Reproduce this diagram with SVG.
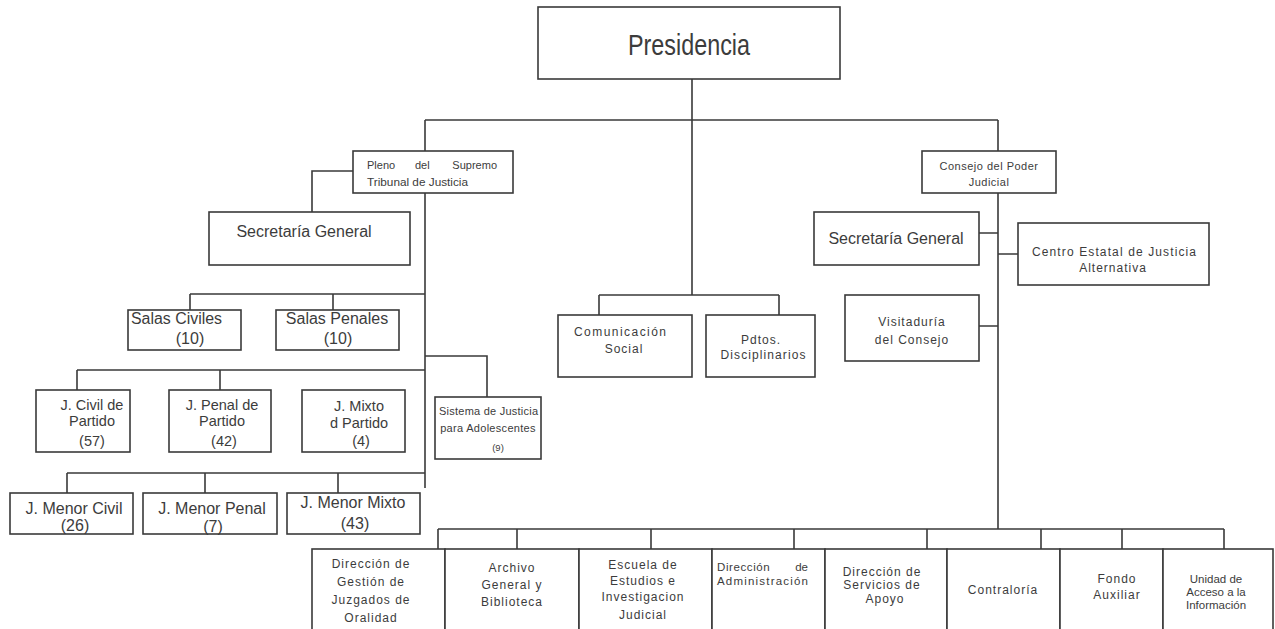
<svg xmlns="http://www.w3.org/2000/svg" width="1275" height="629" viewBox="0 0 1275 629">
<style>
.box{fill:#fff;stroke:#3a3a3a;stroke-width:1.6}
.ln{fill:none;stroke:#3a3a3a;stroke-width:1.6}
text{font-family:"Liberation Sans",Arial,sans-serif;fill:#3c3c3c}
.c{text-anchor:middle}
.s9{font-size:9.5px}
.s11{font-size:11px}
.s12{font-size:12px}
.b{font-size:12px;letter-spacing:1px;text-anchor:middle}
.s14{font-size:14.5px}
.s16{font-size:16px}
</style>
<rect width="1275" height="629" fill="#fff"/>
<g id="connectors">
<path class="ln" d="M692,79V295M425,120H998M425,120V151M998,120V151"/>
<path class="ln" d="M353,171H312V212M425,193V488"/>
<path class="ln" d="M190,294H425M190,294V310M333,294V310"/>
<path class="ln" d="M425,356H487V397"/>
<path class="ln" d="M77,370H425M77,370V390M220,370V390"/>
<path class="ln" d="M67,473H425M67,473V493M205,473V493M338,473V493"/>
<path class="ln" d="M599,295H779M599,295V315M779,295V315"/>
<path class="ln" d="M998,193V529M979,233H998M998,254H1018M979,326H998"/>
<path class="ln" d="M438,529H1224M438,529V549M517,529V549M651,529V549M794,529V549M927,529V549M1041,529V549M1122,529V549M1224,529V549"/>
</g>
<g id="presidencia"><rect class="box" x="538" y="7" width="302" height="72"/><text class="c" x="689" y="55" font-size="30" textLength="122" lengthAdjust="spacingAndGlyphs">Presidencia</text></g>
<g id="pleno"><rect class="box" x="353" y="151" width="160" height="42"/><text class="s11" x="367" y="169">Pleno</text><text class="s11" x="415" y="169">del</text><text class="s11" x="497" y="169" text-anchor="end">Supremo</text><text class="s11" x="367" y="186" textLength="101" lengthAdjust="spacingAndGlyphs">Tribunal de Justicia</text></g>
<g id="secretaria-pleno"><rect class="box" x="209" y="212" width="201" height="53"/><text class="c s16" x="304" y="237">Secretaría General</text></g>
<g id="salas-civiles"><rect class="box" x="128" y="310" width="113" height="40"/><text class="s16" x="131" y="324" textLength="91" lengthAdjust="spacingAndGlyphs">Salas Civiles</text><text class="c s16" x="190" y="344">(10)</text></g>
<g id="salas-penales"><rect class="box" x="276" y="310" width="123" height="40"/><text class="c s16" x="337" y="324">Salas Penales</text><text class="c s16" x="338" y="344">(10)</text></g>
<g id="j-civil-partido"><rect class="box" x="36" y="390" width="94" height="62"/><text class="c s14" x="92" y="410">J. Civil de</text><text class="c s14" x="92" y="426">Partido</text><text class="c s14" x="92" y="446">(57)</text></g>
<g id="j-penal-partido"><rect class="box" x="169" y="390" width="102" height="62"/><text class="c s14" x="222" y="410">J. Penal de</text><text class="c s14" x="222" y="426">Partido</text><text class="c s14" x="224" y="446">(42)</text></g>
<g id="j-mixto-partido"><rect class="box" x="302" y="390" width="103" height="62"/><text class="c s14" x="359" y="411">J. Mixto</text><text class="c s14" x="359" y="428">d Partido</text><text class="c s14" x="361" y="446">(4)</text></g>
<g id="sistema-adolescentes"><rect class="box" x="435" y="397" width="106" height="62"/><text class="s11" x="439" y="415" textLength="99" lengthAdjust="spacing">Sistema de Justicia</text><text class="c s11" x="488" y="432" letter-spacing="0.3">para Adolescentes</text><text class="c s9" x="498" y="451">(9)</text></g>
<g id="j-menor-civil"><rect class="box" x="10" y="493" width="123" height="41"/><text class="c s16" x="74" y="514">J. Menor Civil</text><text class="c s16" x="75" y="531">(26)</text></g>
<g id="j-menor-penal"><rect class="box" x="143" y="493" width="134" height="41"/><text class="c s16" x="212" y="514">J. Menor Penal</text><text class="c s16" x="213" y="532">(7)</text></g>
<g id="j-menor-mixto"><rect class="box" x="287" y="493" width="133" height="41"/><text class="c s16" x="353" y="508">J. Menor Mixto</text><text class="c s16" x="355" y="529">(43)</text></g>
<g id="comunicacion"><rect class="box" x="558" y="315" width="134" height="62"/><text class="c s12" x="620" y="336" textLength="92" lengthAdjust="spacing">Comunicación</text><text class="b" x="624" y="353">Social</text></g>
<g id="pdtos"><rect class="box" x="706" y="315" width="109" height="62"/><text class="b" x="761" y="344">Pdtos.</text><text class="c s12" x="763" y="359" textLength="85" lengthAdjust="spacing">Disciplinarios</text></g>
<g id="consejo"><rect class="box" x="922" y="151" width="134" height="42"/><text class="c s11" x="989" y="170" letter-spacing="0.5">Consejo del Poder</text><text class="c s11" x="989" y="186" letter-spacing="0.5">Judicial</text></g>
<g id="secretaria-consejo"><rect class="box" x="814" y="212" width="165" height="53"/><text class="c s16" x="896" y="244">Secretaría General</text></g>
<g id="centro-estatal"><rect class="box" x="1018" y="223" width="191" height="62"/><text class="c s12" x="1114" y="256" textLength="164" lengthAdjust="spacing">Centro Estatal de Justicia</text><text class="b" x="1113" y="272">Alternativa</text></g>
<g id="visitaduria"><rect class="box" x="845" y="295" width="134" height="66"/><text class="b" x="912" y="326">Visitaduría</text><text class="b" x="912" y="344">del Consejo</text></g>
<g id="dir-gestion"><rect class="box" x="312" y="549" width="133" height="95"/><text class="b" x="371" y="568">Dirección de</text><text class="b" x="371" y="586">Gestión de</text><text class="b" x="371" y="604">Juzgados de</text><text class="b" x="371" y="622">Oralidad</text></g>
<g id="archivo"><rect class="box" x="445" y="549" width="134" height="95"/><text class="b" x="512" y="572">Archivo</text><text class="b" x="512" y="589">General y</text><text class="b" x="512" y="606">Biblioteca</text></g>
<g id="escuela"><rect class="box" x="579" y="549" width="133" height="95"/><text class="b" x="643" y="569">Escuela de</text><text class="b" x="643" y="585">Estudios e</text><text class="b" x="643" y="601">Investigacion</text><text class="b" x="643" y="619">Judicial</text></g>
<g id="dir-administracion"><rect class="box" x="712" y="549" width="113" height="95"/><text x="717" y="571" font-size="11.5" letter-spacing="0.6">Dirección</text><text x="808" y="571" font-size="11.5" text-anchor="end">de</text><text x="717" y="585" font-size="11.5" textLength="91" lengthAdjust="spacing">Administración</text></g>
<g id="dir-servicios"><rect class="box" x="825" y="549" width="122" height="95"/><text class="b" x="882" y="576">Dirección de</text><text class="b" x="882" y="589">Servicios de</text><text class="b" x="885" y="603">Apoyo</text></g>
<g id="contraloria"><rect class="box" x="947" y="549" width="113" height="95"/><text class="b" x="1003" y="594">Contraloría</text></g>
<g id="fondo-auxiliar"><rect class="box" x="1060" y="549" width="103" height="95"/><text class="b" x="1117" y="583">Fondo</text><text class="b" x="1117" y="599">Auxiliar</text></g>
<g id="unidad-acceso"><rect class="box" x="1163" y="549" width="110" height="95"/><text class="c" x="1216" y="583" font-size="11.5">Unidad de</text><text class="c" x="1216" y="596" font-size="11.5">Acceso a la</text><text class="c" x="1216" y="609" font-size="11.5">Información</text></g>
</svg>
